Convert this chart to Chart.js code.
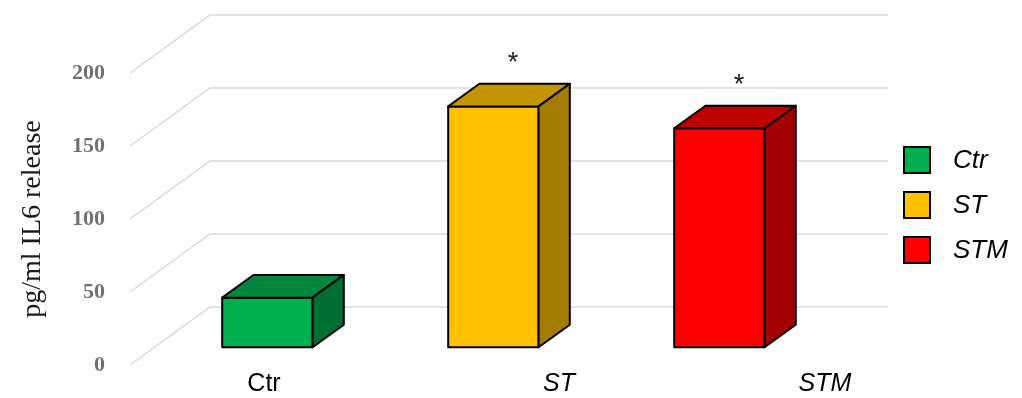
<!DOCTYPE html>
<html>
<head>
<meta charset="utf-8">
<script src="https://cdn.jsdelivr.net/npm/chart.js@4.4.1/dist/chart.umd.min.js"></script>
<style>
  html, body { margin: 0; padding: 0; background: #ffffff; }
  #wrap { width: 1022px; height: 398px; }
</style>
</head>
<body>
<div id="wrap"><canvas id="c" width="1022" height="398"></canvas></div>
<script>
// Groups and IL6 release (pg/ml)
const categories = ['Ctr', 'ST', 'STM'];
const il6Release = [34, 165, 150];
const significance = ['', '*', '*'];
const yTickValues = [0, 50, 100, 150, 200];

// Face colours of each box: front, top, right side
const faceFront = ['#00B050', '#FFC000', '#FF0000'];
const faceTop   = ['#00873D', '#C49500', '#C00000'];
const faceSide  = ['#006F32', '#A47C00', '#A00000'];

// Oblique depth of the plot box and where the bars sit inside it
const DEPTH = { dx: 80, dy: -58, front: 0.305, back: 0.695 };

function poly(ctx, pts, fill) {
  ctx.beginPath();
  ctx.moveTo(pts[0][0], pts[0][1]);
  for (let k = 1; k < pts.length; k++) ctx.lineTo(pts[k][0], pts[k][1]);
  ctx.closePath();
  ctx.fillStyle = fill;
  ctx.fill();
  ctx.stroke();
}

const box3d = {
  id: 'box3d',
  beforeDatasetsDraw(chart) {
    const { ctx, chartArea: a, scales: { y } } = chart;
    ctx.save();
    // side wall and back wall grid lines
    ctx.strokeStyle = '#d9d9d9';
    ctx.lineWidth = 1.5;
    yTickValues.forEach(v => {
      const py = y.getPixelForValue(v);
      ctx.beginPath();
      ctx.moveTo(a.left, py);
      ctx.lineTo(a.left + DEPTH.dx, py + DEPTH.dy);
      ctx.lineTo(a.right + DEPTH.dx, py + DEPTH.dy);
      ctx.stroke();
    });
    // bars as boxes
    const meta = chart.getDatasetMeta(0);
    const fx = DEPTH.dx * DEPTH.front, fy = DEPTH.dy * DEPTH.front;
    const bx = DEPTH.dx * (DEPTH.back - DEPTH.front), by = DEPTH.dy * (DEPTH.back - DEPTH.front);
    ctx.lineWidth = 2;
    ctx.strokeStyle = '#000000';
    ctx.lineJoin = 'round';
    meta.data.forEach((bar, i) => {
      const { x: cx, y: top, base, width } = bar.getProps(['x', 'y', 'base', 'width'], true);
      const x0 = cx - width / 2 + fx, x1 = cx + width / 2 + fx;
      const y0 = top + fy, y1 = base + fy;
      poly(ctx, [[x0, y0], [x1, y0], [x1, y1], [x0, y1]], faceFront[i]);
      poly(ctx, [[x0, y0], [x0 + bx, y0 + by], [x1 + bx, y0 + by], [x1, y0]], faceTop[i]);
      poly(ctx, [[x1, y0], [x1 + bx, y0 + by], [x1 + bx, y1 + by], [x1, y1]], faceSide[i]);
    });
    ctx.restore();
    return false;
  },
  afterDraw(chart, args, opts) {
    const { ctx, scales: { x, y } } = chart;
    const meta = chart.getDatasetMeta(0);
    ctx.save();
    // significance marks above the box tops
    ctx.fillStyle = '#222222';
    ctx.font = '27px "Liberation Sans", Arial, sans-serif';
    ctx.textAlign = 'center';
    ctx.textBaseline = 'alphabetic';
    meta.data.forEach((bar, i) => {
      if (!significance[i]) return;
      const px = bar.x + DEPTH.dx * 0.5 + 4;
      const py = y.getPixelForValue(il6Release[i]) + DEPTH.dy * 0.5 - 24;
      ctx.fillText(significance[i], px, py);
    });
    // category labels under the floor
    ctx.fillStyle = '#000000';
    ctx.textBaseline = 'middle';
    categories.forEach((c, i) => {
      ctx.font = (opts.labelItalic[i] ? 'italic ' : '') + '25px "Liberation Sans", Arial, sans-serif';
      ctx.fillText(c, x.getPixelForValue(i) + opts.labelNudge[i], opts.labelY);
    });
    // legend
    ctx.textAlign = 'left';
    ctx.font = 'italic 26px "Liberation Sans", Arial, sans-serif';
    ctx.lineWidth = 2;
    ctx.strokeStyle = '#000000';
    categories.forEach((c, i) => {
      const by = opts.legendTop + opts.legendStep * i;
      ctx.fillStyle = faceFront[i];
      ctx.fillRect(opts.legendX, by, 26, 26);
      ctx.strokeRect(opts.legendX, by, 26, 26);
      ctx.fillStyle = '#000000';
      ctx.fillText(c, opts.legendX + 49, by + 14);
    });
    ctx.restore();
  }
};

new Chart(document.getElementById('c'), {
  type: 'bar',
  data: {
    labels: categories,
    datasets: [{
      label: 'IL6',
      data: il6Release,
      backgroundColor: faceFront,
      borderColor: '#000000',
      borderWidth: 2,
      barPercentage: 0.4,
      categoryPercentage: 1.0
    }]
  },
  options: {
    responsive: false,
    animation: false,
    devicePixelRatio: 1,
    layout: { padding: { left: 0, top: 73, right: 214, bottom: 33 } },
    plugins: {
      legend: { display: false },
      tooltip: { enabled: false },
      box3d: {
        labelNudge: [21, 90, 130],
        labelItalic: [false, true, true],
        labelY: 384,
        legendX: 904,
        legendTop: 147,
        legendStep: 45
      }
    },
    scales: {
      x: { type: 'category', display: false },
      y: {
        min: yTickValues[0],
        max: yTickValues[yTickValues.length - 1],
        afterFit: s => {
          s.width = 130;
          // the horizontal tick padding should not reserve vertical room
          s.paddingTop = 13;
          s.paddingBottom = 13;
        },
        grid: { display: false, drawTicks: false },
        border: { display: false },
        ticks: {
          stepSize: yTickValues[1] - yTickValues[0],
          padding: 25,
          color: '#717171',
          font: { family: '"Liberation Serif", "Times New Roman", serif', size: 22, weight: 'bold' }
        },
        title: {
          display: true,
          text: 'pg/ml IL6 release',
          color: '#1a1a1a',
          padding: { top: 16, bottom: 0 },
          font: { family: '"Liberation Serif", "Times New Roman", serif', size: 28, weight: 'normal' }
        }
      }
    }
  },
  plugins: [box3d]
});
</script>
</body>
</html>
